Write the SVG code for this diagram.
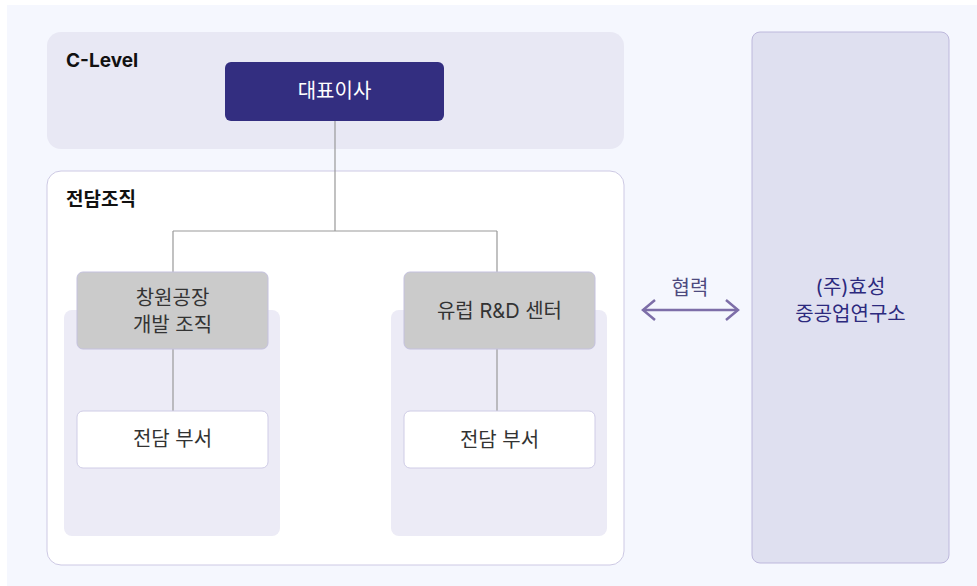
<svg xmlns="http://www.w3.org/2000/svg" width="977" height="586" viewBox="0 0 977 586">
<style>
text{font-family:"Inter","Noto Sans CJK KR","Noto Sans",sans-serif}
.title{font-size:19px;font-weight:700;fill:#111111}
.lbl{font-size:20px;fill:#333333;text-anchor:middle}
.conn{stroke:#999999;stroke-width:1.2;fill:none}
.node{fill:#CBCBCB;stroke:#C4C1DE;stroke-width:1}
.sub{fill:#FFFFFF;stroke:#CFCCE6;stroke-width:1}
.grp{fill:#ECEBF6}
</style>
<defs>
<marker id="ah" markerWidth="16" markerHeight="24" refX="13" refY="12" orient="auto-start-reverse" markerUnits="userSpaceOnUse">
<path d="M1,2 L13,12 L1,22" fill="none" stroke="#7D6EA8" stroke-width="2.5"/>
</marker>
</defs>
<rect x="7" y="5" width="970" height="581" fill="#F5F7FE"/>
<g id="c-level">
<rect x="47" y="32" width="577" height="117" rx="14" fill="#E8E8F4"/>
<text class="title" x="66" y="67">C-Level</text>
</g>
<g id="dedicated-org">
<rect x="47" y="171" width="577" height="394" rx="14" fill="#FFFFFF" stroke="#CDC9E4" stroke-width="1"/>
<text class="title" x="66" y="206">전담조직</text>
</g>
<g id="group-left"><rect class="grp" x="64" y="310" width="216" height="226" rx="8"/></g>
<g id="group-right"><rect class="grp" x="391" y="310" width="216" height="226" rx="8"/></g>
<g id="connectors">
<path class="conn" d="M335,121 V231 M173,231 H497 M173,231 V272 M497,231 V272 M173,349 V411 M497,349 V411"/>
<line x1="643" y1="310" x2="738" y2="310" stroke="#7D6EA8" stroke-width="2.5" marker-start="url(#ah)" marker-end="url(#ah)"/>
<text x="690" y="295" font-size="20" fill="#4E4A7E" text-anchor="middle">협력</text>
</g>
<g id="ceo">
<rect x="225" y="62" width="219" height="59" rx="6" fill="#332E80"/>
<text x="334.5" y="98" font-size="20" fill="#FFFFFF" text-anchor="middle">대표이사</text>
</g>
<g id="changwon">
<rect class="node" x="77" y="272" width="191" height="77" rx="6"/>
<text class="lbl" x="172.5" y="305">창원공장</text>
<text class="lbl" x="172.5" y="332">개발 조직</text>
</g>
<g id="europe-rd">
<rect class="node" x="404" y="272" width="191" height="77" rx="6"/>
<text class="lbl" x="499.5" y="318">유럽 R&amp;D 센터</text>
</g>
<g id="dept-left">
<rect class="sub" x="77" y="411" width="191" height="57" rx="6"/>
<text class="lbl" x="172.5" y="446">전담 부서</text>
</g>
<g id="dept-right">
<rect class="sub" x="404" y="411" width="191" height="57" rx="6"/>
<text class="lbl" x="499.5" y="447">전담 부서</text>
</g>
<g id="hyosung">
<rect x="752" y="32" width="197" height="531" rx="8" fill="#DFE0F0" stroke="#BDB8DC" stroke-width="1"/>
<text x="850.5" y="294" font-size="20" fill="#2D2A7E" text-anchor="middle">(주)효성</text>
<text x="850.5" y="321" font-size="20" fill="#2D2A7E" text-anchor="middle">중공업연구소</text>
</g>
</svg>
